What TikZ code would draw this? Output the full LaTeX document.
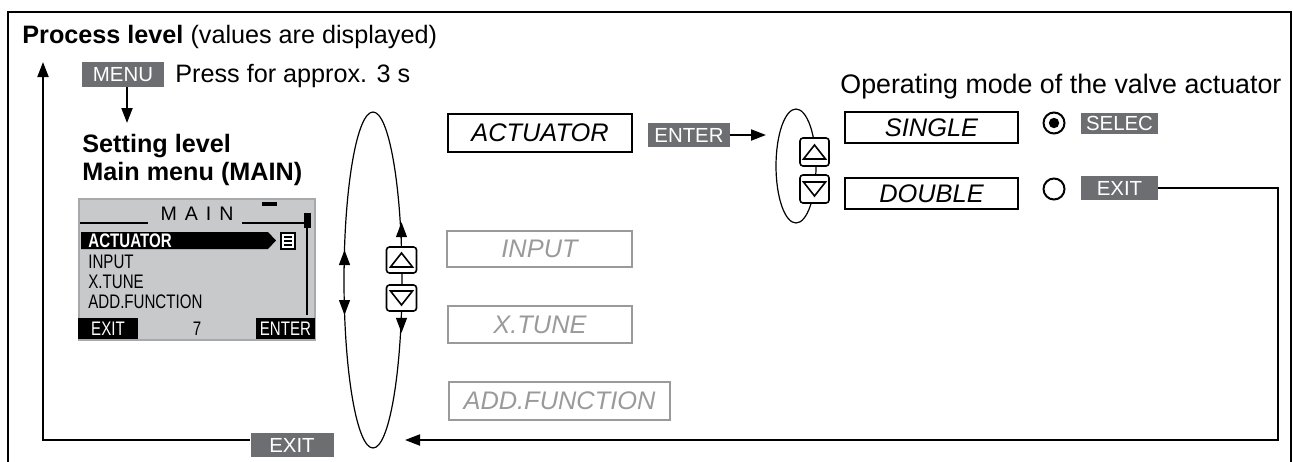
\documentclass[tikz,border=0pt]{standalone}
\usepackage{fontspec}
\setmainfont{Liberation Sans}
\newfontfamily\lcdfont[FakeStretch=0.77]{Liberation Sans}
\usetikzlibrary{arrows.meta,positioning}
\definecolor{keygray}{HTML}{6D6E71}
\definecolor{lcdgray}{HTML}{C8C9CB}
\definecolor{lcdedge}{HTML}{A7A9AC}
\definecolor{dimgray}{HTML}{9A9A9A}
\newcommand{\fsz}[1]{\fontsize{#1}{#1}\selectfont}

\begin{document}
\begin{tikzpicture}[x=0.5pt, y=-0.5pt,
    key/.style={fill=keygray, text=white, inner sep=0pt, font=\fsz{10.2}},
    menubox/.style={draw, line width=1pt, inner sep=0pt, font=\fsz{12.7}\itshape},
    dimbox/.style={menubox, draw=dimgray, text=dimgray},
    arrow/.style={-{Triangle[length=7.5pt,width=5.5pt]}, line width=1pt},
    thinarrow/.style={-{Triangle[length=7.5pt,width=5.5pt]}, line width=0.6pt},
    lbl/.style={anchor=base west, inner sep=0pt, font=\fsz{12.6}},
    lcd/.style={anchor=west, inner sep=0pt, font=\lcdfont\fsz{9.8}},
    lcdkey/.style={fill=black, text=white, inner sep=0pt, font=\lcdfont\fsz{9.8}, minimum height=10.5pt},
    btn/.style={draw, fill=white, rounded corners=1.5pt, line width=0.8pt, minimum width=15pt, minimum height=13pt, inner sep=0pt},
    upbtn/.style={btn, path picture={\draw[sharp corners, line width=0.8pt]
        ([shift={(-11,7)}]path picture bounding box.center) -- ([shift={(0,-7)}]path picture bounding box.center)
        -- ([shift={(11,7)}]path picture bounding box.center) -- cycle;}},
    dnbtn/.style={btn, path picture={\draw[sharp corners, line width=0.8pt]
        ([shift={(-11,-7)}]path picture bounding box.center) -- ([shift={(0,7)}]path picture bounding box.center)
        -- ([shift={(11,-7)}]path picture bounding box.center) -- cycle;}},
    radio/.style={circle, draw, line width=1pt, minimum size=10.5pt, inner sep=0pt}
]
    \useasboundingbox (0,0) rectangle (1293,461);
    % frame
    \draw[line width=1pt] (8,470) -- (8,12) -- (1291,12) -- (1291,470);
    \node[lbl] (proc) at (22,43) {\textbf{Process level} (values are displayed)};
    % back to process level
    \node[key, minimum width=41.5pt, minimum height=12pt] (exitA) at (292,445) {EXIT};
    \coordinate (procup) at (43,62);
    \draw[arrow] (exitA.west |- 0,440) -| (procup);
    % MENU
    \node[key, minimum width=41pt, minimum height=12.5pt] (menu) at (123,74.5) {MENU};
    \node[lbl] (press) at (175,82) {Press for approx. 3 s};
    \coordinate (setarr) at (127,123);
    \draw[arrow] (menu.south -| setarr) -- (setarr);
    \node[lbl, font=\fsz{12.6}\bfseries] (setting) at (82,152) {Setting level};
    \node[lbl, font=\fsz{12.6}\bfseries] (mainmenu) at (82,180) {Main menu (MAIN)};
    % display
    \node[draw=lcdedge, fill=lcdgray, line width=1pt, minimum width=118pt, minimum height=70.5pt, inner sep=0pt] (lcd) at (197,269.5) {};
    \node[inner sep=0pt, font=\fsz{9.8}] (lcdtitle) at (197,214) {M\hspace{4pt}A\hspace{4pt}I\hspace{4pt}N};
    \draw[line width=0.8pt] (80,223) -- (148,223) (242,223) -- (307,223);
    \fill (262,202) rectangle (277,206);
    \draw[line width=0.8pt] (307,213) -- (307,315);
    \fill (304,213) rectangle (311,228);
    \fill (81,232) -- (268,232) -- (276,240.5) -- (268,249) -- (81,249) -- cycle;
    \node[lcd, font=\lcdfont\fsz{9.8}\bfseries, text=white] (lcdact) at (88,240.5) {ACTUATOR};
    \node[draw, fill=white, line width=0.8pt, minimum width=7pt, minimum height=8pt, inner sep=0pt] (lcdicon) at (288,241) {};
    \foreach \yy in {237,241,245}
        \draw[line width=0.8pt] (284,\yy) -- (292,\yy);
    \node[lcd] (lcdinp) at (88,262) {INPUT};
    \node[lcd] (lcdxt) at (88,281.5) {X.TUNE};
    \node[lcd] (lcdadd) at (88,302) {ADD.FUNCTION};
    \node[lcdkey, minimum width=30pt] (lcdexit) at (108,328.5) {EXIT};
    \node[inner sep=0pt, font=\lcdfont\fsz{9.8}] (lcdnum) at (197,328.5) {7};
    \node[lcdkey, minimum width=29.5pt] (lcdenter) at (285.5,328.5) {ENTER};
    % main menu loop
    \draw[line width=0.6pt] (373,280) ellipse [x radius=29, y radius=168];
    \draw[thinarrow] (344.5,268) -- (344.5,250);
    \draw[thinarrow] (344.5,297) -- (344.5,315);
    \node[upbtn] (up1) at (401.5,260) {};
    \node[dnbtn] (dn1) at (401.5,298) {};
    \draw[thinarrow] (up1.north) -- ++(0,-24);
    \draw[thinarrow] (dn1.south) -- ++(0,21);
    % menu items
    \node[menubox, minimum width=92pt, minimum height=19pt] (act) at (540,133) {ACTUATOR};
    \node[dimbox, minimum width=92.5pt, minimum height=18pt] (inp) at (539.5,249) {INPUT};
    \node[dimbox, minimum width=92pt, minimum height=18.5pt] (xtune) at (540,324.5) {X.TUNE};
    \node[dimbox, minimum width=110.5pt, minimum height=19pt] (addf) at (559.5,401) {ADD.FUNCTION};
    % ENTER into submenu
    \node[key, minimum width=41pt, minimum height=12pt] (enter) at (689,135) {ENTER};
    \coordinate (subin) at (766,135);
    \draw[arrow] (enter) -- (subin);
    % submenu loop
    \draw[line width=0.6pt] (796,166) ellipse [x radius=20, y radius=57];
    \node[upbtn, minimum width=14.5pt, minimum height=14pt] (up2) at (814.5,152) {};
    \node[dnbtn, minimum width=14.5pt, minimum height=14pt] (dn2) at (814.5,189) {};
    \node[lbl, font=\fsz{13.4}] (opmode) at (840,93) {Operating mode of the valve actuator};
    \node[menubox, minimum width=86.5pt, minimum height=15.5pt] (single) at (931.5,127.5) {SINGLE};
    \node[menubox, minimum width=86.5pt, minimum height=15.5pt] (double) at (931.5,193.5) {DOUBLE};
    \node[radio] (rsel) at (1054,123) {};
    \fill (rsel.center) circle (2.6pt);
    \node[radio] (rexit) at (1054,189) {};
    \node[key, minimum width=38.5pt, minimum height=10.5pt] (selec) at (1119.5,123.5) {SELEC};
    \node[key, minimum width=38.5pt, minimum height=12pt] (exitB) at (1119.5,188) {EXIT};
    % EXIT back to the main menu
    \coordinate (back) at (405,440);
    \draw[arrow] (exitB.east) -| (1278,440) -- (back);
\end{tikzpicture}
\end{document}
